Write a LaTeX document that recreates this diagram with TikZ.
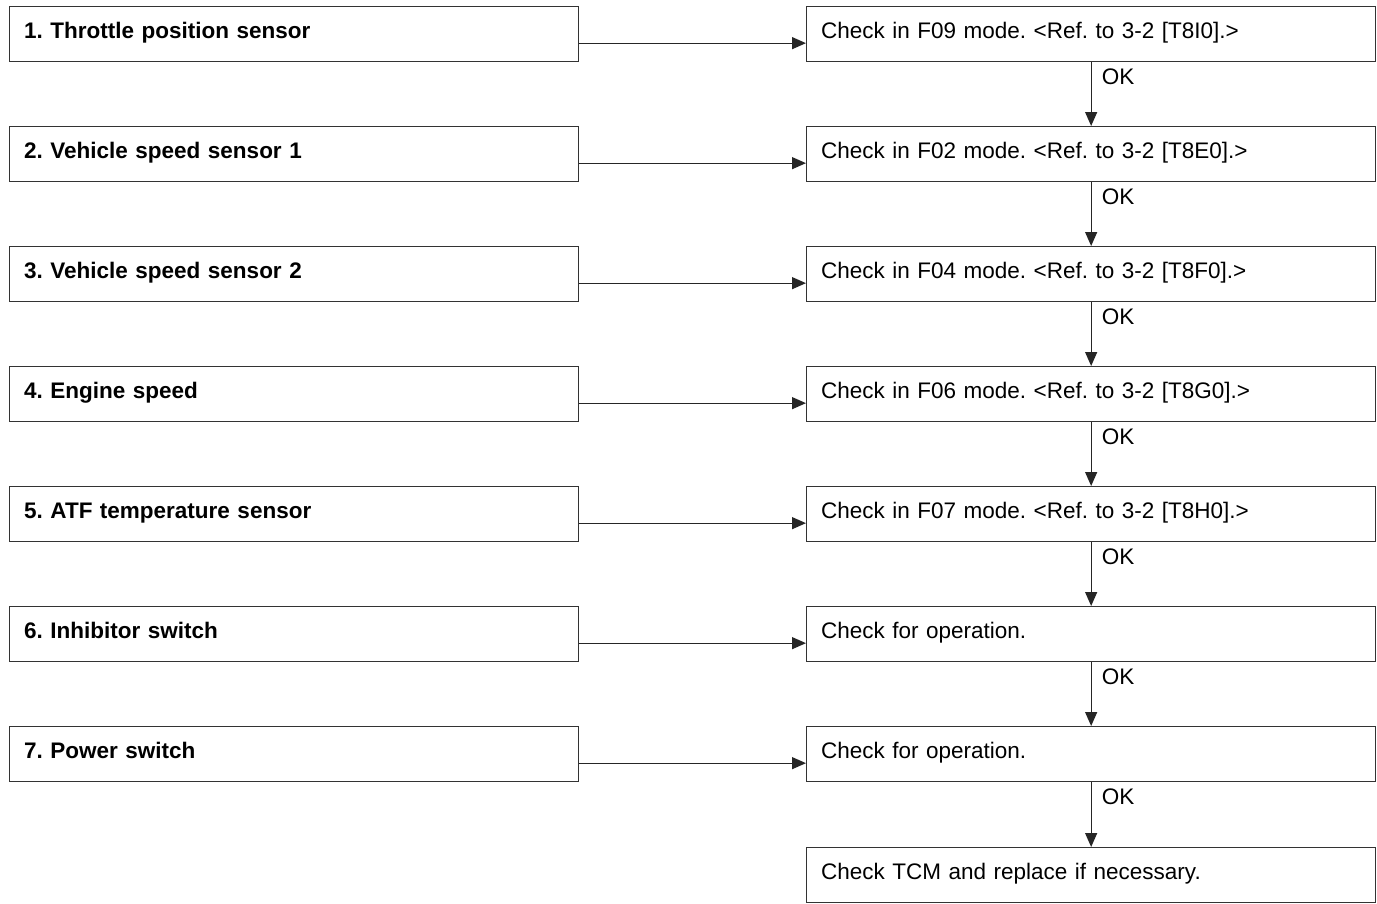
\documentclass[tikz,border=0pt]{standalone}
\usepackage{fontspec}
\setmainfont{Liberation Sans}
\usetikzlibrary{arrows.meta}
\frenchspacing

\tikzset{
  box/.style={draw=black!80, line width=1.3pt, anchor=north west,
    minimum width=569pt, minimum height=55pt, text width=540pt,
    align=left, inner xsep=14pt, text height=15pt, text depth=7pt,
    font=\fontsize{22.5}{26}\selectfont},
  item/.style={box, font=\fontsize{22.5}{26}\selectfont\bfseries},
  arr/.style={draw=black!85, line width=1.3pt, -{Triangle[length=14pt,width=12pt]}},
  ok/.style={anchor=west, font=\fontsize{22.5}{26}\selectfont, inner sep=2pt}
}

\begin{document}
\begin{tikzpicture}[x=1pt, y=-1pt]
  \useasboundingbox (0,0) rectangle (1377,903);

  \node[item] (L1) at (9,6)   {1. Throttle position sensor};
  \node[item] (L2) at (9,126) {2. Vehicle speed sensor 1};
  \node[item] (L3) at (9,246) {3. Vehicle speed sensor 2};
  \node[item] (L4) at (9,366) {4. Engine speed};
  \node[item] (L5) at (9,486) {5. ATF temperature sensor};
  \node[item] (L6) at (9,606) {6. Inhibitor switch};
  \node[item] (L7) at (9,726) {7. Power switch};

  \node[box] (R1) at (806,6)   {Check in F09 mode. <Ref. to 3-2 [T8I0].>};
  \node[box] (R2) at (806,126) {Check in F02 mode. <Ref. to 3-2 [T8E0].>};
  \node[box] (R3) at (806,246) {Check in F04 mode. <Ref. to 3-2 [T8F0].>};
  \node[box] (R4) at (806,366) {Check in F06 mode. <Ref. to 3-2 [T8G0].>};
  \node[box] (R5) at (806,486) {Check in F07 mode. <Ref. to 3-2 [T8H0].>};
  \node[box] (R6) at (806,606) {Check for operation.};
  \node[box] (R7) at (806,726) {Check for operation.};
  \node[box] (R8) at (806,847) {Check TCM and replace if necessary.};

  \foreach \i in {1,...,7}
    \draw[arr] ([yshift=-9pt]L\i.east) -- ([yshift=-9pt]R\i.west);

  \foreach \i/\j in {1/2,2/3,3/4,4/5,5/6,6/7,7/8}
    \draw[arr] (R\i.south) -- node[ok, pos=0.22, xshift=8pt] {OK} (R\j.north);
\end{tikzpicture}
\end{document}
